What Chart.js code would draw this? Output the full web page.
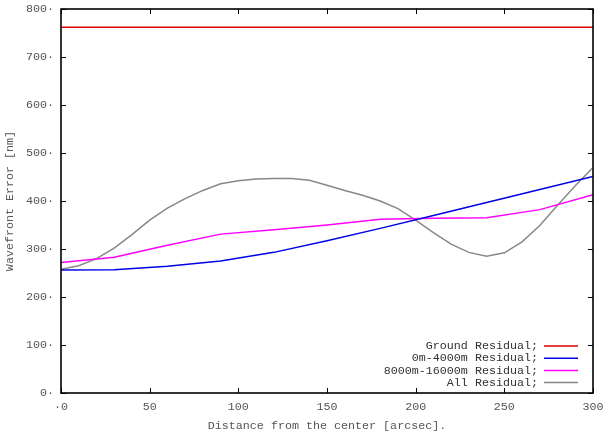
<!DOCTYPE html>
<html>
<head>
<meta charset="utf-8">
<script src="https://cdn.jsdelivr.net/npm/chart.js@4/dist/chart.umd.min.js"></script>
<style>
  html, body { margin: 0; padding: 0; background: #fff; }
  #wrap { width: 607px; height: 434px; }
</style>
</head>
<body>
<div id="wrap"><canvas id="c" width="607" height="434"></canvas></div>
<script>
// ---- data ----
const groundX = [0, 300];
const groundY = [762, 762];

const lowX = [0, 30, 60, 90, 120, 150, 180, 210, 240, 270, 300];
const lowY = [256, 257, 264, 275, 293, 317, 343, 370, 397, 424, 451];

const highX = [0, 30, 60, 90, 120, 150, 180, 210, 240, 270, 300];
const highY = [272, 283, 308, 331, 340, 350, 362, 364, 365, 382, 413];

const allX = [0, 10, 20, 30, 40, 50, 60, 70, 80, 90, 100, 110, 120, 130, 140, 150,
              160, 170, 180, 190, 200, 210, 220, 230, 240, 250, 260, 270, 280, 290, 300];
const allY = [258, 265, 280, 302, 330, 360, 385, 405, 422, 436, 442, 446, 447, 447, 443, 433,
              422, 412, 400, 384, 360, 334, 310, 293, 285, 292, 315, 349, 391, 432, 470];

const seriesLabels = ["Ground Residual;", "0m-4000m Residual;", "8000m-16000m Residual;", "All Residual;"];
const xTicks = [0, 50, 100, 150, 200, 250, 300];
const yTicks = [0, 100, 200, 300, 400, 500, 600, 700, 800];
const xTitle = "Distance from the center [arcsec].";
const yTitle = "Wavefront Error [nm]";

function pts(xs, ys) { return xs.map((x, i) => ({ x: x, y: ys[i] })); }

const FONT = "'Liberation Mono', 'DejaVu Sans Mono', monospace";
const FS = 11.7;
const TXT = "#555555";

const frameAndLegend = {
  id: 'frameAndLegend',
  afterDatasetsDraw(chart) {
    const ctx = chart.ctx;
    const a = chart.chartArea;
    const xs = chart.scales.x, ys = chart.scales.y;
    ctx.save();
    ctx.strokeStyle = '#000';
    ctx.lineWidth = 1;
    const tl = 5;
    ctx.beginPath();
    xTicks.forEach(v => {
      const px = Math.round(xs.getPixelForValue(v)) + 0.5;
      ctx.moveTo(px, a.bottom); ctx.lineTo(px, a.bottom - tl);
      ctx.moveTo(px, a.top); ctx.lineTo(px, a.top + tl);
    });
    yTicks.forEach(v => {
      const py = Math.round(ys.getPixelForValue(v)) + 0.5;
      ctx.moveTo(a.left, py); ctx.lineTo(a.left + tl, py);
      ctx.moveTo(a.right, py); ctx.lineTo(a.right - tl, py);
    });
    ctx.stroke();
    ctx.lineWidth = 1.6;
    ctx.strokeRect(a.left, a.top, a.right - a.left, a.bottom - a.top);
    // legend
    ctx.font = FS + "px " + FONT;
    ctx.textAlign = 'right';
    ctx.textBaseline = 'middle';
    const textRight = 538;
    const lineL = 544, lineR = 578;
    const y0 = 346, dy = 12.2;
    chart.data.datasets.forEach((ds, i) => {
      const y = y0 + i * dy;
      ctx.fillStyle = '#333333';
      ctx.fillText(ds.label, textRight, y);
      ctx.strokeStyle = ds.borderColor;
      ctx.lineWidth = 1.5;
      ctx.beginPath();
      ctx.moveTo(lineL, y); ctx.lineTo(lineR, y);
      ctx.stroke();
    });
    ctx.restore();
  }
};

const ds = (label, data, color) => ({
  label: label, data: data, borderColor: color, backgroundColor: color,
  borderWidth: 1.5, pointRadius: 0, tension: 0, fill: false
});

new Chart(document.getElementById('c'), {
  type: 'line',
  data: {
    datasets: [
      ds(seriesLabels[0], pts(groundX, groundY), '#e00000'),
      ds(seriesLabels[1], pts(lowX, lowY), '#0000e8'),
      ds(seriesLabels[2], pts(highX, highY), '#ff00ff'),
      ds(seriesLabels[3], pts(allX, allY), '#888888')
    ]
  },
  options: {
    responsive: false,
    animation: false,
    layout: { padding: { top: 9, right: 14, left: 0, bottom: 0 } },
    plugins: { legend: { display: false }, tooltip: { enabled: false } },
    scales: {
      x: {
        type: 'linear', min: 0, max: 300,
        afterBuildTicks(s) { s.ticks = xTicks.map(v => ({ value: v })); },
        afterFit(s) { s.height = 41; s.paddingLeft = 0; s.paddingRight = 0; },
        grid: { display: false, drawTicks: false },
        border: { display: false },
        ticks: {
          color: TXT, font: { family: FONT, size: FS }, padding: 7, maxRotation: 0,
          callback: v => (v === 0 ? '·0' : String(v))
        },
        title: { display: true, text: xTitle, color: TXT, font: { family: FONT, size: FS }, padding: { top: 4, bottom: 1 } }
      },
      y: {
        type: 'linear', min: 0, max: 800,
        afterBuildTicks(s) { s.ticks = yTicks.map(v => ({ value: v })); },
        afterFit(s) { s.width = 61; s.paddingTop = 0; s.paddingBottom = 0; },
        grid: { display: false, drawTicks: false },
        border: { display: false },
        ticks: {
          color: TXT, font: { family: FONT, size: FS }, padding: 7,
          callback: v => String(v) + '·'
        },
        title: { display: true, text: yTitle, color: TXT, font: { family: FONT, size: FS }, padding: { top: 3, bottom: 2 } }
      }
    }
  },
  plugins: [frameAndLegend]
});
</script>
</body>
</html>
